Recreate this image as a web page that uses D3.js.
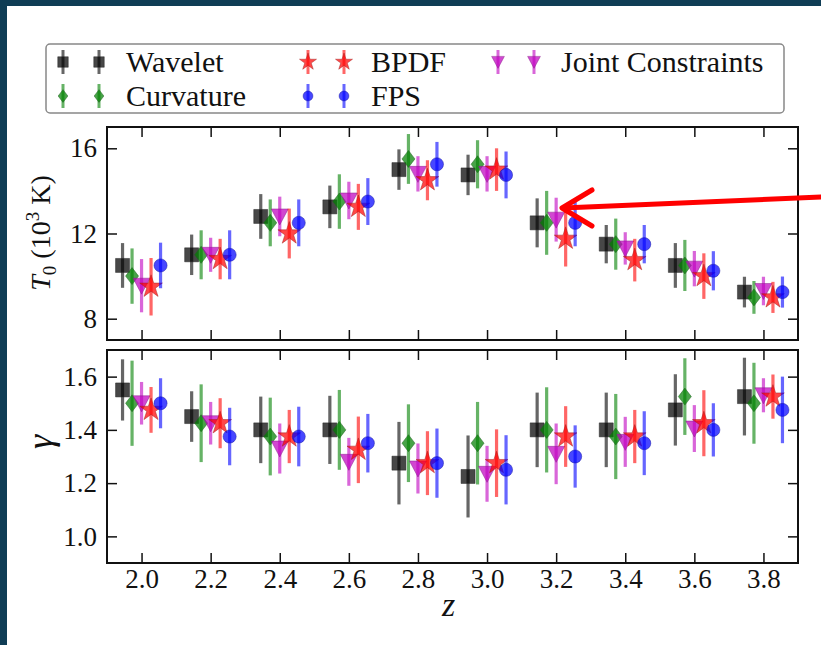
<!DOCTYPE html>
<html><head><meta charset="utf-8">
<script src="https://cdn.jsdelivr.net/npm/d3@7"></script>
<style>body{margin:0;padding:0;background:#fff}svg{display:block}</style>
</head><body>
<script>
const zValues = [2.0, 2.2, 2.4, 2.6, 2.8, 3.0, 3.2, 3.4, 3.6, 3.8];
const xTicks = [2.0, 2.2, 2.4, 2.6, 2.8, 3.0, 3.2, 3.4, 3.6, 3.8];
const t0Ticks = [8, 12, 16];
const gammaTicks = [1.0, 1.2, 1.4, 1.6];
const seriesNames = ["Wavelet", "Curvature", "Joint Constraints", "BPDF", "FPS"];

const t0Wavelet = [10.5, 11.0, 12.8, 13.25, 15.0, 14.75, 12.5, 11.5, 10.5, 9.25];
const t0WaveletErr = [1.05, 0.95, 1.05, 1.0, 0.95, 0.95, 1.15, 0.9, 1.05, 0.72];
const t0Curvature = [10.0, 11.0, 12.5, 13.5, 15.5, 15.25, 12.5, 11.5, 10.5, 9.0];
const t0CurvatureErr = [1.3, 1.15, 1.1, 1.28, 1.17, 1.13, 1.5, 1.2, 1.2, 0.77];
const t0Joint = [9.55, 11.0, 12.8, 13.55, 14.8, 14.8, 12.65, 11.3, 10.35, 9.3];
const t0JointErr = [1.25, 0.8, 0.93, 0.88, 0.83, 0.83, 1.03, 0.76, 0.83, 0.67];
const t0BPDF = [9.5, 10.8, 12.0, 13.25, 14.5, 15.0, 11.75, 10.75, 10.0, 9.0];
const t0BPDFErr = [1.35, 0.95, 1.17, 1.08, 0.94, 1.0, 1.3, 1.0, 1.07, 0.73];
const t0FPS = [10.5, 11.0, 12.5, 13.5, 15.25, 14.75, 12.5, 11.5, 10.25, 9.25];
const t0FPSErr = [1.07, 1.15, 1.1, 1.1, 1.05, 1.1, 1.1, 0.9, 0.92, 0.73];

const gWavelet = [1.55, 1.45, 1.40, 1.40, 1.275, 1.225, 1.40, 1.40, 1.475, 1.525];
const gWaveletErr = [0.115, 0.095, 0.125, 0.128, 0.155, 0.154, 0.14, 0.14, 0.134, 0.146];
const gCurvature = [1.50, 1.425, 1.375, 1.40, 1.35, 1.35, 1.40, 1.375, 1.525, 1.50];
const gCurvatureErr = [0.16, 0.146, 0.146, 0.15, 0.146, 0.155, 0.16, 0.16, 0.144, 0.152];
const gJoint = [1.50, 1.425, 1.33, 1.28, 1.255, 1.235, 1.31, 1.355, 1.405, 1.53];
const gJointErr = [0.08, 0.08, 0.094, 0.09, 0.094, 0.105, 0.114, 0.094, 0.088, 0.064];
const gBPDF = [1.475, 1.425, 1.375, 1.325, 1.275, 1.275, 1.375, 1.375, 1.425, 1.525];
const gBPDFErr = [0.086, 0.094, 0.1, 0.125, 0.12, 0.127, 0.114, 0.1, 0.124, 0.083];
const gFPS = [1.50, 1.375, 1.375, 1.35, 1.275, 1.25, 1.30, 1.35, 1.40, 1.475];
const gFPSErr = [0.094, 0.108, 0.112, 0.11, 0.13, 0.13, 0.117, 0.12, 0.1, 0.125];

const W = 821, H = 645;
const svg = d3.select("body").append("svg").attr("width", W).attr("height", H);
svg.append("rect").attr("width", W).attr("height", H).attr("fill", "#0f3d55");
svg.append("rect").attr("x", 7).attr("y", 6).attr("width", W - 7).attr("height", H - 6).attr("fill", "#fff");

const FONT = "'Liberation Serif', 'Times New Roman', serif";
const left = 107, right = 798;
const x = d3.scaleLinear().domain([1.9, 3.9]).range([left, right]);
const yT = d3.scaleLinear().domain([7, 17]).range([340, 127]);
const yG = d3.scaleLinear().domain([0.9, 1.7]).range([563, 350]);

const styles = {
  "Wavelet":   {color: "#000000", off: -0.055, shape: "square"},
  "Curvature": {color: "#008000", off: -0.0275, shape: "diamond"},
  "Joint Constraints": {color: "#bf00bf", off: 0, shape: "tri"},
  "BPDF":      {color: "#ff0000", off: 0.0275, shape: "star"},
  "FPS":       {color: "#0000ff", off: 0.055, shape: "circle"}
};
const markerPath = {
  square: d3.symbol(d3.symbolSquare, 196)(),
  circle: d3.symbol(d3.symbolCircle, 135)(),
  star: d3.symbol(d3.symbolStar, 160)(),
  diamond: "M0,-8.5L6.5,0L0,8.5L-6.5,0Z",
  tri: "M-8.5,-7.5L8.5,-7.5L0,8.5Z"
};
const edge = {"Wavelet": "#222", "Curvature": "#1f5f1f", "Joint Constraints": "#8a1f8a", "BPDF": "#a02020", "FPS": "#1a1aa0"};

const t0Data = {
  "Wavelet": [t0Wavelet, t0WaveletErr], "Curvature": [t0Curvature, t0CurvatureErr],
  "Joint Constraints": [t0Joint, t0JointErr], "BPDF": [t0BPDF, t0BPDFErr], "FPS": [t0FPS, t0FPSErr]
};
const gData = {
  "Wavelet": [gWavelet, gWaveletErr], "Curvature": [gCurvature, gCurvatureErr],
  "Joint Constraints": [gJoint, gJointErr], "BPDF": [gBPDF, gBPDFErr], "FPS": [gFPS, gFPSErr]
};

function panel(y, data, ticks, fmt, top, bottom, showX) {
  const g = svg.append("g");
  seriesNames.forEach(name => {
    const st = styles[name];
    const [vals, errs] = data[name];
    const pts = zValues.map((zz, i) => ({z: zz + st.off, v: vals[i], e: errs[i]}));
    const sg = g.append("g");
    sg.selectAll("line").data(pts).join("line")
      .attr("x1", d => x(d.z)).attr("x2", d => x(d.z))
      .attr("y1", d => y(d.v - d.e)).attr("y2", d => y(d.v + d.e))
      .attr("stroke", st.color).attr("stroke-opacity", 0.6).attr("stroke-width", 3.2);
    sg.selectAll("path").data(pts).join("path")
      .attr("d", markerPath[st.shape])
      .attr("transform", d => `translate(${x(d.z)},${y(d.v)})`)
      .attr("fill", st.color).attr("fill-opacity", 0.72)
      .attr("stroke", edge[name]).attr("stroke-opacity", 0.6).attr("stroke-width", 0.8);
  });
  g.append("rect").attr("x", left).attr("y", top).attr("width", right - left).attr("height", bottom - top)
    .attr("fill", "none").attr("stroke", "#111").attr("stroke-width", 2);
  const ax = g.append("g").attr("transform", `translate(0,${bottom})`)
    .call(d3.axisBottom(x).tickValues(xTicks).tickSizeInner(-10).tickSizeOuter(0).tickPadding(6).tickFormat(d3.format(".1f")));
  const axT = g.append("g").attr("transform", `translate(0,${top})`)
    .call(d3.axisTop(x).tickValues(xTicks).tickSizeInner(-10).tickSizeOuter(0).tickFormat(""));
  const ay = g.append("g").attr("transform", `translate(${left},0)`)
    .call(d3.axisLeft(y).tickValues(ticks).tickSizeInner(-10).tickSizeOuter(0).tickPadding(10).tickFormat(fmt));
  const ayR = g.append("g").attr("transform", `translate(${right},0)`)
    .call(d3.axisRight(y).tickValues(ticks).tickSizeInner(-10).tickSizeOuter(0).tickFormat(""));
  [ax, axT, ay, ayR].forEach(a => {
    a.select(".domain").remove();
    a.selectAll(".tick line").attr("stroke", "#111").attr("stroke-width", 1.5);
    a.selectAll("text").attr("font-family", FONT).attr("font-size", 27).attr("fill", "#111");
  });
  if (!showX) ax.selectAll("text").remove();
}

panel(yT, t0Data, t0Ticks, d3.format("d"), 127, 340, false);
panel(yG, gData, gammaTicks, d3.format(".1f"), 350, 563, true);

// axis labels
const t0Label = svg.append("text").attr("transform", "translate(50,233) rotate(-90)")
  .attr("text-anchor", "middle").attr("font-family", FONT).attr("font-size", 28).attr("fill", "#111");
t0Label.append("tspan").attr("font-style", "italic").text("T");
t0Label.append("tspan").attr("font-size", 19).attr("dy", 6).text("0");
t0Label.append("tspan").attr("dy", -6).text(" (10");
t0Label.append("tspan").attr("font-size", 19).attr("dy", -11).text("3");
t0Label.append("tspan").attr("dy", 11).text(" K)");

svg.append("text").attr("transform", "translate(52,442) rotate(-90)")
  .attr("text-anchor", "middle").attr("font-family", FONT).attr("font-style", "italic")
  .attr("font-size", 36).attr("fill", "#111").text("γ");

svg.append("text").attr("x", (left + right) / 2 - 4).attr("y", 616)
  .attr("text-anchor", "middle").attr("font-family", FONT).attr("font-style", "italic")
  .attr("font-size", 34).attr("fill", "#111").text("z");

// legend
const lg = svg.append("g");
lg.append("rect").attr("x", 46).attr("y", 44).attr("width", 738).attr("height", 69).attr("rx", 4)
  .attr("fill", "#fff").attr("stroke", "#888").attr("stroke-width", 1.5);
const legendItems = [
  {name: "Wavelet", col: 0, row: 0}, {name: "Curvature", col: 0, row: 1},
  {name: "BPDF", col: 1, row: 0}, {name: "FPS", col: 1, row: 1},
  {name: "Joint Constraints", col: 2, row: 0}
];
const colX = [63, 308, 498];
const rowY = [62, 96];
legendItems.forEach(it => {
  const st = styles[it.name];
  const cy = rowY[it.row];
  [0, 36].forEach(dx => {
    const cx = colX[it.col] + dx;
    lg.append("line").attr("x1", cx).attr("x2", cx).attr("y1", cy - 12).attr("y2", cy + 12)
      .attr("stroke", st.color).attr("stroke-opacity", 0.6).attr("stroke-width", 3);
    lg.append("path").attr("d", markerPath[st.shape]).attr("transform", `translate(${cx},${cy}) scale(0.75)`)
      .attr("fill", st.color).attr("fill-opacity", 0.72).attr("stroke", edge[it.name]).attr("stroke-opacity", 0.6);
  });
  lg.append("text").attr("x", colX[it.col] + 63).attr("y", cy).attr("dy", "0.33em")
    .attr("font-family", FONT).attr("font-size", 30).attr("fill", "#111").text(it.name);
});

// red annotation arrow
const ar = svg.append("g").attr("stroke", "#ff0000").attr("stroke-width", 5).attr("fill", "none")
  .attr("stroke-linecap", "round").attr("stroke-linejoin", "round");
ar.append("line").attr("x1", 821).attr("y1", 197).attr("x2", 563).attr("y2", 208);
ar.append("path").attr("d", "M592,190L562,208L592,226");
</script>
</body></html>
